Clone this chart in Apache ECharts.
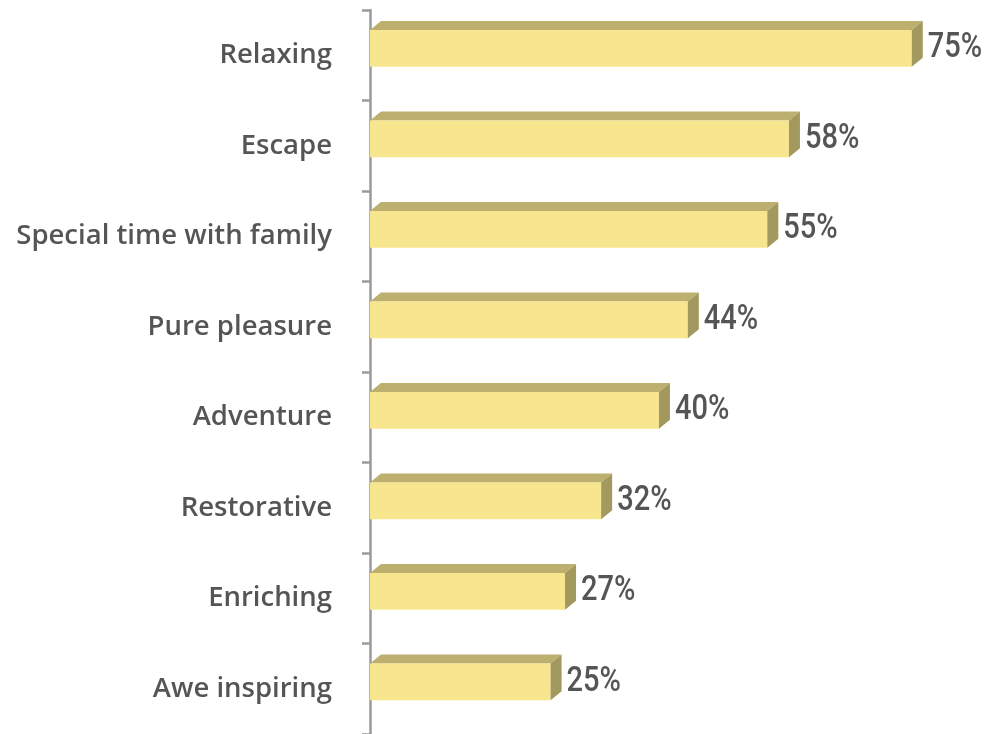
<!DOCTYPE html>
<html>
<head>
<meta charset="utf-8">
<script src="https://cdn.jsdelivr.net/npm/echarts@6/dist/echarts.min.js"></script>
<style>
  html, body { margin: 0; padding: 0; background: #ffffff; }
  #chart { width: 986px; height: 734px; }
</style>
</head>
<body>
<div id="chart"></div>
<script>
// Reasons for taking a trip, share of respondents (%)
const categories = [
  'Relaxing',
  'Escape',
  'Special time with family',
  'Pure pleasure',
  'Adventure',
  'Restorative',
  'Enriching',
  'Awe inspiring'
];
const values = [75, 58, 55, 44, 40, 32, 27, 25];

const FRONT = '#F8E68F';
const TOP = '#BDB06E';
const SIDE = '#A3995E';
const DEPTH_X = 11;
const DEPTH_Y = 9;

// Draws one pseudo-3D bar (front, top and side faces) plus its value label
function renderBar(params, api) {
  const idx = api.value(0);
  const val = api.value(1);
  const start = api.coord([0, idx]);
  const end = api.coord([val, idx]);
  const band = api.size([0, 1])[1];
  const cy = end[1];
  const top = cy - band * 0.28;
  const bottom = cy + band * 0.127;
  const x0 = start[0];
  const x1 = end[0];
  return {
    type: 'group',
    children: [
      {
        type: 'polygon',
        shape: { points: [[x0, top], [x0 + DEPTH_X, top - DEPTH_Y], [x1 + DEPTH_X, top - DEPTH_Y], [x1, top]] },
        style: { fill: TOP }
      },
      {
        type: 'rect',
        shape: { x: x0, y: top, width: x1 - x0, height: bottom - top },
        style: { fill: FRONT }
      },
      {
        type: 'polygon',
        shape: { points: [[x1, top], [x1 + DEPTH_X, top - DEPTH_Y], [x1 + DEPTH_X, bottom - DEPTH_Y], [x1, bottom]] },
        style: { fill: SIDE }
      },
      {
        type: 'text',
        x: x1 + DEPTH_X + 5,
        y: cy - band * 0.075,
        scaleX: 0.83,
        style: {
          x: 0,
          y: 0,
          text: val + '%',
          fill: '#555555',
          font: '500 35px Roboto',
          align: 'left',
          verticalAlign: 'middle'
        }
      }
    ]
  };
}

const chart = echarts.init(document.getElementById('chart'), null, { renderer: 'canvas' });
chart.setOption({
  animation: false,
  backgroundColor: '#ffffff',
  grid: { left: 370, right: 2, top: 10, bottom: -3, containLabel: false },
  xAxis: {
    type: 'value',
    min: 0,
    max: 85,
    show: false
  },
  yAxis: {
    type: 'category',
    data: categories,
    inverse: true,
    offset: 10,
    axisLine: { show: true, lineStyle: { color: '#9a9a9a', width: 2.5 } },
    axisTick: { show: true, inside: false, length: 8, lineStyle: { color: '#9a9a9a', width: 2.5 } },
    axisLabel: {
      margin: 28,
      padding: [7, 0, 0, 0],
      color: '#555555',
      fontFamily: 'Open Sans',
      fontWeight: 600,
      fontSize: 27.5
    },
    splitLine: { show: false }
  },
  series: [{
    type: 'custom',
    renderItem: renderBar,
    encode: { x: 1, y: 0 },
    data: values.map((v, i) => [i, v])
  }]
});
</script>
</body>
</html>
